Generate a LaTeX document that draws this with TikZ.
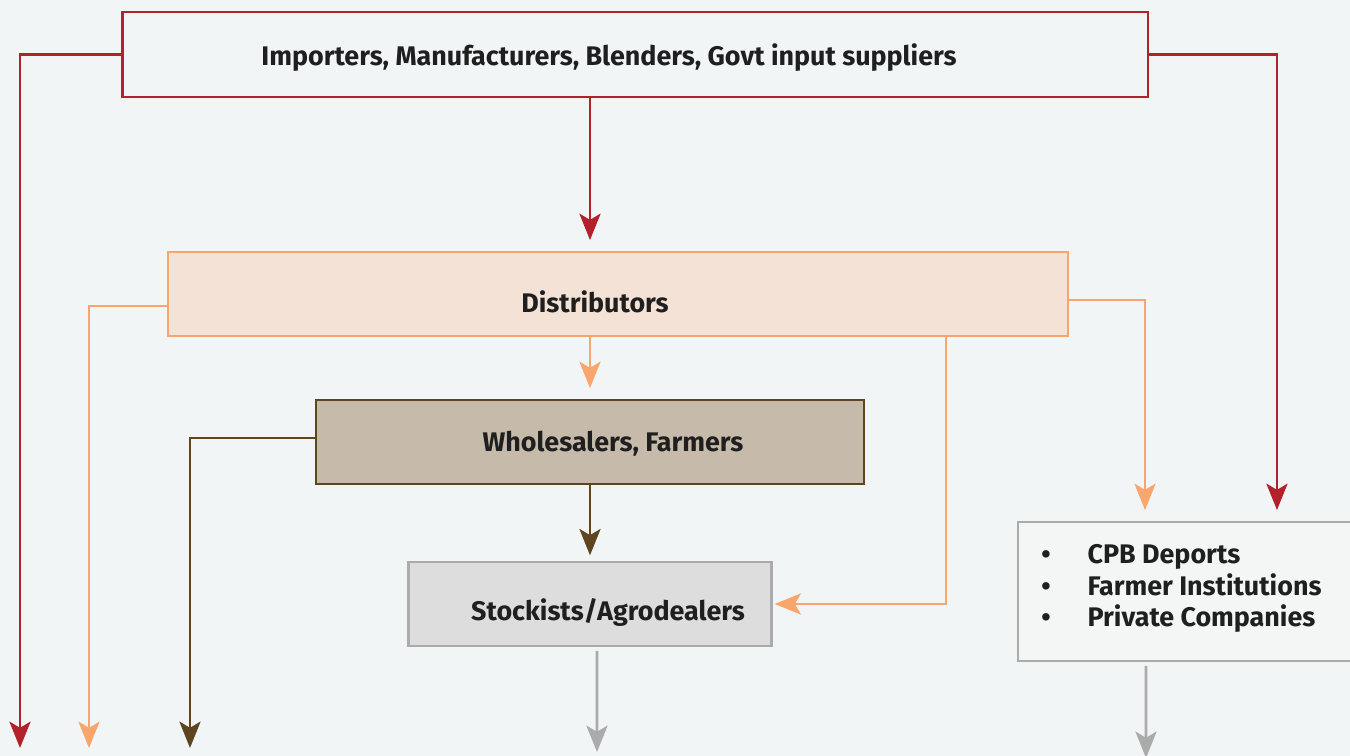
\documentclass[tikz,border=0pt]{standalone}
\usepackage{fontspec}
\setmainfont{Fira Sans}
\usepackage{xcolor}
\usetikzlibrary{positioning, arrows.meta, calc}

\definecolor{pagebg}{HTML}{F1F5F6}
\definecolor{supred}{HTML}{B3212B}
\definecolor{distorange}{HTML}{F8A66E}
\definecolor{distfill}{HTML}{F5E2D7}
\definecolor{wholebrown}{HTML}{5E4520}
\definecolor{wholefill}{HTML}{C6BBAA}
\definecolor{stockgray}{HTML}{ABABAB}
\definecolor{stockfill}{HTML}{DDDDDD}
\definecolor{cpbfill}{HTML}{F4F5F5}

\begin{document}
\begin{tikzpicture}[
    x=0.02cm, y=-0.02cm,
    line width=1.6pt,
    font=\fontsize{15.3}{18}\selectfont\bfseries,
    box/.style={draw, rectangle, inner sep=0pt},
    flow/.style={-{Stealth[length=15pt, width=12pt, inset=3.5pt]}},
    txt/.style={text=black!88, inner sep=0pt}
]
    \useasboundingbox (0,0) rectangle (1350,756);
    \clip (0,0) rectangle (1350,756);
    \fill[pagebg] (0,0) rectangle (1350,756);

    % supply chain boxes
    \node[box, draw=supred, fill=pagebg, minimum width=20.52cm, minimum height=1.70cm] (top) at (635,54.5) {};
    \node[box, draw=distorange, fill=distfill, minimum width=18cm, minimum height=1.68cm] (dist) at (618,294) {};
    \node[box, draw=wholebrown, fill=wholefill, minimum width=10.96cm, minimum height=1.68cm] (whole) at (590,442) {};
    \node[box, draw=stockgray, fill=stockfill, minimum width=7.26cm, minimum height=1.68cm] (stock) at (590,604) {};
    \node[box, draw=stockgray, fill=cpbfill, minimum width=6.84cm, minimum height=2.78cm] (cpb) at (1189,591.5) {};

    % labels
    \node[txt] (topText) at (609,58) {Importers, Manufacturers, Blenders, Govt input suppliers};
    \node[txt] (distText) at (595,302) {Distributors};
    \node[txt] (wholeText) at (613,444) {Wholesalers, Farmers};
    \node[txt] (stockText) at (608,613) {Stockists/Agrodealers};
    \node[txt, anchor=west] (cpbText) at (1040,589) {%
        \begin{tabular}{@{}l@{\hspace{21pt}}l@{}}
            \textbullet & CPB Deports\\
            \textbullet & Farmer Institutions\\
            \textbullet & Private Companies
        \end{tabular}};

    % loose ends at the bottom
    \coordinate (r1) at (20,748);
    \coordinate (o1) at (89,748);
    \coordinate (b1) at (190,748);
    \coordinate (g1) at (597,752);
    \coordinate (g2) at (1146,758);

    % red flows
    \draw[flow, supred] (top.west) -| (r1);
    \draw[flow, supred, shorten >=6pt] (top.south -| whole) -- (dist.north -| whole);
    \draw[flow, supred, shorten >=6pt] (top.east) -| ([xshift=1.76cm]cpb.north);

    % orange flows
    \draw[flow, distorange] ([yshift=-0.24cm]dist.west) -| (o1);
    \draw[flow, distorange, shorten >=6pt] (dist.south -| whole) -- (whole.north);
    \draw[flow, distorange, shorten >=6pt] ([yshift=-0.12cm]dist.east) -| ([xshift=-0.88cm]cpb.north);
    \draw[flow, distorange, shorten >=1pt] ([xshift=6.56cm]dist.south) |- (stock.east);

    % brown flows
    \draw[flow, wholebrown] ([yshift=0.08cm]whole.west) -| (b1);
    \draw[flow, wholebrown, shorten >=3pt] (whole.south) -- (stock.north);

    % gray flows
    \draw[flow, stockgray, shorten <=2pt] ([xshift=0.14cm]stock.south) -- (g1);
    \draw[flow, stockgray, shorten <=2pt] ([xshift=-0.86cm]cpb.south) -- (g2);
\end{tikzpicture}
\end{document}
